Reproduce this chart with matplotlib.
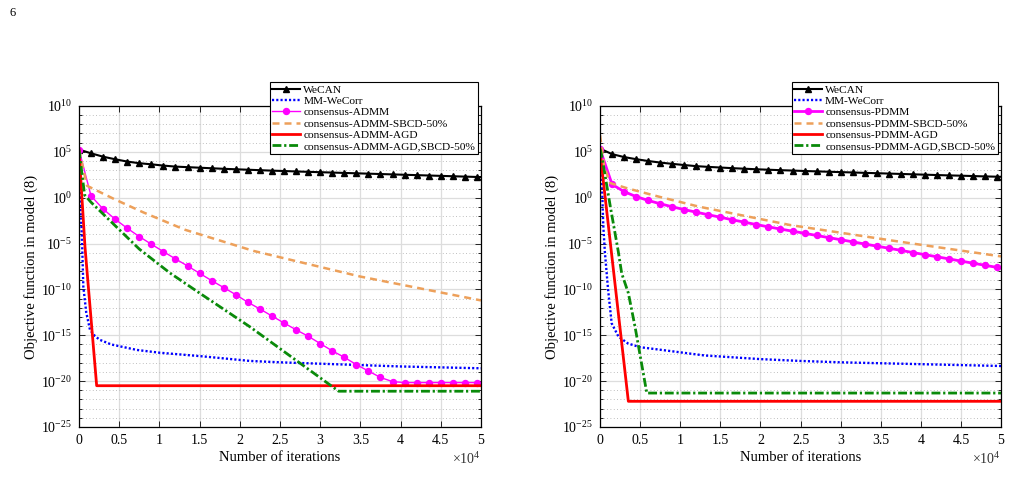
import numpy as np
import matplotlib
matplotlib.use("Agg")
import matplotlib.pyplot as plt
from matplotlib.ticker import FixedLocator, NullFormatter

plt.rcParams["font.family"] = ["Liberation Serif", "DejaVu Serif"]
plt.rcParams["mathtext.fontset"] = "custom"
plt.rcParams["mathtext.rm"] = "Liberation Serif"
plt.rcParams["mathtext.it"] = "Liberation Serif:italic"

# ------------------------------------------------------------------ data
# iteration grid of the marked curves (markers every 1500 its) + end point
iters = np.append(np.arange(0, 49501, 1500), 50000)

# values are log10 of the objective
wecan_L = [5.25, 4.84, 4.47, 4.19, 3.94, 3.76, 3.64, 3.50, 3.39, 3.33, 3.27, 3.21,
           3.15, 3.10, 3.05, 3.00, 2.95, 2.91, 2.86, 2.82, 2.78, 2.74, 2.70, 2.66,
           2.62, 2.58, 2.54, 2.50, 2.46, 2.42, 2.38, 2.34, 2.30, 2.26, 2.25]
admm_L = [5.25, 0.19, -1.23, -2.35, -3.33, -4.24, -5.07, -5.88, -6.67, -7.44, -8.24,
          -9.04, -9.80, -10.57, -11.40, -12.13, -12.90, -13.66, -14.40, -15.10, -15.90,
          -16.70, -17.40, -18.20, -18.90, -19.60, -20.05, -20.16, -20.16, -20.16, -20.16,
          -20.16, -20.16, -20.16, -20.16]
mm_it_L = [0, 120, 330, 410, 540, 900, 1370, 2000, 2600, 4000, 7200, 10000, 15400,
           21300, 25000, 30000, 35000, 40000, 45000, 50000]
mm_L = [5.25, -0.25, -3.5, -5.7, -9.7, -12.5, -14.4, -15.1, -15.5, -16.0, -16.6, -16.9,
        -17.3, -17.8, -17.95, -18.1, -18.25, -18.4, -18.5, -18.6]
sbcd_it_L = [0, 1000, 4500, 8000, 13200, 21700, 35000, 50000]
sbcd_L = [5.25, 1.3, -0.2, -1.6, -3.5, -5.8, -8.6, -11.2]
agd_it_L = [0, 750, 2200, 50000]
agd_L = [5.25, -5.4, -20.5, -20.5]
agds_it_L = [0, 700, 1500, 7500, 11300, 15000, 21300, 32300, 50000]
agds_L = [5.25, 0.3, -0.5, -5.6, -8.2, -10.4, -14.1, -21.1, -21.1]

wecan_R = [5.35, 4.75, 4.43, 4.20, 4.00, 3.83, 3.69, 3.56, 3.44, 3.36, 3.29, 3.22,
           3.16, 3.10, 3.05, 3.00, 2.96, 2.91, 2.87, 2.83, 2.79, 2.75, 2.71, 2.67,
           2.63, 2.59, 2.55, 2.51, 2.47, 2.43, 2.40, 2.36, 2.32, 2.29, 2.28]
pdmm_R = [5.3, 1.45, 0.66, 0.12, -0.30, -0.66, -0.99, -1.30, -1.58, -1.86, -2.13,
          -2.41, -2.67, -2.93, -3.18, -3.42, -3.65, -3.88, -4.12, -4.35, -4.58, -4.81,
          -5.05, -5.28, -5.51, -5.74, -5.98, -6.21, -6.44, -6.67, -6.91, -7.14, -7.37,
          -7.60, -7.65]
mm_it_R = [0, 200, 400, 600, 1000, 1450, 2300, 3500, 5000, 7700, 13000, 20000, 25000,
           30000, 37500, 45000, 50000]
mm_R = [5.3, 2.5, -3.0, -5.9, -10.0, -13.7, -15.15, -15.9, -16.3, -16.6, -17.2, -17.6,
        -17.8, -17.95, -18.1, -18.25, -18.35]
sbcd_it_R = [0, 500, 1250, 3500, 7300, 12300, 23700, 37000, 50000]
sbcd_R = [6.8, 3.5, 1.6, 1.0, 0.12, -0.97, -2.98, -4.75, -6.4]
agd_it_R = [0, 125, 3530, 50000]
agd_R = [5.3, 4.0, -22.2, -22.2]
agds_it_R = [0, 210, 1250, 2280, 2700, 3530, 4370, 5830, 50000]
agds_R = [5.3, 4.6, -0.8, -5.9, -8.25, -10.4, -14.1, -21.3, -21.3]

xtick_labels = ["0", "0.5", "1", "1.5", "2", "2.5", "3", "3.5", "4", "4.5", "5"]

C_ORANGE = "#EDA05A"
C_GREEN = "#0A8A0A"
marks = list(range(34))


def style_axes(ax):
    ax.set_yscale("log")
    ax.set_xlim(0, 5e4)
    ax.set_ylim(1e-25, 1e10)
    ax.set_xticks(np.arange(0, 50001, 5000))
    ax.set_xticklabels(xtick_labels)
    ax.set_yticks(10.0 ** np.arange(-25, 11, 5))
    ax.yaxis.set_minor_locator(FixedLocator(10.0 ** np.arange(-25, 11)))
    ax.yaxis.set_minor_formatter(NullFormatter())
    ax.tick_params(which="both", direction="in", top=True, right=True,
                   labelsize=10, width=0.7, color="#222")
    ax.tick_params(which="major", length=4, pad=5)
    ax.tick_params(which="minor", length=2.2)
    ax.grid(which="major", color="#DDDDDD", lw=0.9, ls="-")
    ax.grid(which="minor", axis="y", color="#AAAAAA", lw=0.6, ls=(0, (1, 3)))
    ax.set_axisbelow(True)
    for sp in ax.spines.values():
        sp.set_linewidth(0.9)
    ax.set_xlabel("Number of iterations", fontsize=10.5, labelpad=3)
    ax.set_ylabel("Objective function in model (8)", fontsize=10.5, labelpad=2)
    ax.text(1.0, -0.1, r"$\times10^{4}$", transform=ax.transAxes,
            ha="right", va="center", fontsize=10, color="#333")


fig = plt.figure(figsize=(10.1, 4.95), dpi=100)
axL = fig.add_axes([0.0782, 0.1374, 0.398, 0.6485])
axR = fig.add_axes([0.5941, 0.1374, 0.397, 0.6485])

for ax, tag, d in [
    (axL, "ADMM", dict(wecan=wecan_L, mm_it=mm_it_L, mm=mm_L, cons=admm_L, cons_lw=1.0,
                       sb_it=sbcd_it_L, sb=sbcd_L, ag_it=agd_it_L, ag=agd_L,
                       as_it=agds_it_L, as_=agds_L)),
    (axR, "PDMM", dict(wecan=wecan_R, mm_it=mm_it_R, mm=mm_R, cons=pdmm_R, cons_lw=2.0,
                       sb_it=sbcd_it_R, sb=sbcd_R, ag_it=agd_it_R, ag=agd_R,
                       as_it=agds_it_R, as_=agds_R)),
]:
    style_axes(ax)
    ax.plot(iters, 10.0 ** np.array(d["wecan"]), "-^", color="black", lw=1.5,
            ms=4.5, markevery=marks, label="WeCAN")
    ax.plot(d["mm_it"], 10.0 ** np.array(d["mm"]), color="#0000FF", lw=1.7,
            ls=(0, (0.9, 0.9)), label="MM-WeCorr")
    ax.plot(iters, 10.0 ** np.array(d["cons"]), "-o", color="#FF00FF", lw=d["cons_lw"],
            ms=4.3, markevery=marks, label=f"consensus-{tag}")
    ax.plot(d["sb_it"], 10.0 ** np.array(d["sb"]), color=C_ORANGE, lw=1.8,
            ls=(0, (2.8, 2.0)), label=f"consensus-{tag}-SBCD-50%")
    ax.plot(d["ag_it"], 10.0 ** np.array(d["ag"]), "-", color="#FF0000", lw=2.0,
            label=f"consensus-{tag}-AGD")
    ax.plot(d["as_it"], 10.0 ** np.array(d["as_"]), color=C_GREEN, lw=2.0,
            ls=(0, (3.2, 1.0, 0.8, 1.0)), label=f"consensus-{tag}-AGD,SBCD-50%")
    leg = ax.legend(loc="upper right", bbox_to_anchor=(0.9925, 1.0748), fontsize=8.2,
                    fancybox=False, edgecolor="black", framealpha=1, borderpad=0.25,
                    labelspacing=0.12, handlelength=2.4, handletextpad=0.3,
                    borderaxespad=0, numpoints=1)
    leg.get_frame().set_linewidth(0.8)

fig.text(10 / 1010, 1 - 13 / 495, "6", fontsize=9, va="center", ha="left")

fig.savefig("out.png", dpi=100)
